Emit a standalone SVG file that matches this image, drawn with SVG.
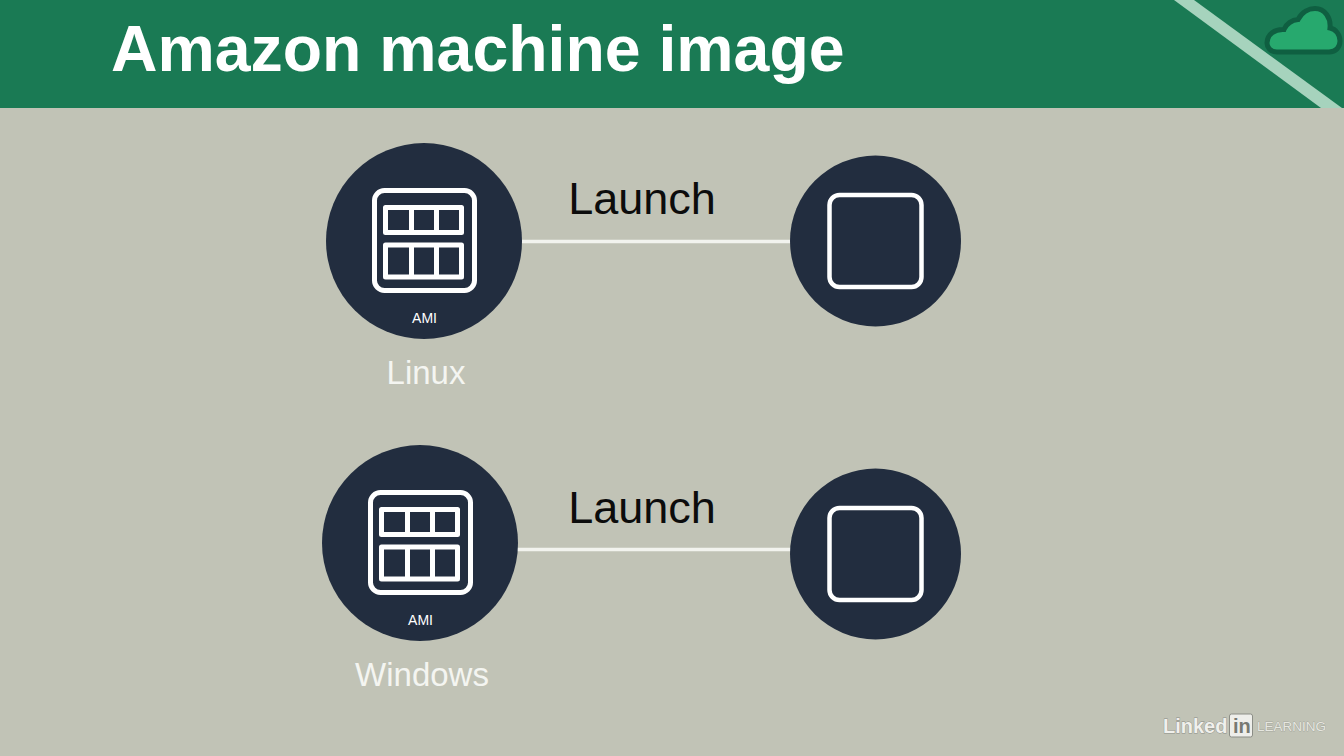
<svg xmlns="http://www.w3.org/2000/svg" width="1344" height="756" viewBox="0 0 1344 756">
<style>
.disc{fill:#222d3f}
.ln{fill:none;stroke:#fff;stroke-linejoin:round}
.conn{stroke:#f2f3ee;stroke-width:3.5;fill:none}
text{font-family:"Liberation Sans",Arial,sans-serif}
.launch{font-size:45px;fill:#0c0c0c;text-anchor:middle}
.os{font-size:33px;fill:#f4f5f1;text-anchor:middle}
.ami{font-size:14px;fill:#fff;text-anchor:middle}
</style>
<defs>
<g id="amiIcon">
<rect class="ln" x="-49.500" y="-50.500" width="100" height="100" rx="10" stroke-width="5"/>
<rect class="ln" x="-38.500" y="-33.500" width="76" height="25" stroke-width="5"/>
<path class="ln" d="M-12.500-33.500V-8.500M12.500-33.500V-8.500" stroke-width="5"/>
<rect class="ln" x="-38.500" y="4" width="76" height="32" stroke-width="5"/>
<path class="ln" d="M-12.500 4V36M12.500 4V36" stroke-width="5"/>
</g>
</defs>
<rect width="1344" height="756" fill="#c1c3b6"/>
<g id="header">
<rect width="1344" height="108" fill="#1a7a54"/>
<polygon points="1174,0 1194,0 1342,108 1321,108" fill="#a6d3bd"/>
<path id="cloud" d="M1277 52C1270 52 1267 47 1267 43C1267 34 1275 29 1284 29.500C1286 24 1292 20 1298 19.500C1302 12 1309 8.500 1315 8.500C1325 8.500 1331 18 1330 28C1336 29 1340 35 1340 41C1340 47 1336 52 1329 52Z" fill="#27a96e" stroke="#0f5f41" stroke-width="5"/>
<text x="111" y="71" font-size="64.400" font-weight="700" fill="#fff">Amazon machine image</text>
</g>
<g id="connectors">
<line class="conn" x1="521" y1="241.500" x2="792" y2="241.500"/>
<line class="conn" x1="517" y1="549.500" x2="792" y2="549.500"/>
</g>
<g id="ami-linux">
<circle class="disc" cx="424" cy="241" r="98"/>
<use href="#amiIcon" x="424" y="241"/>
<text class="ami" x="424.500" y="323">AMI</text>
<text class="os" x="426" y="384">Linux</text>
</g>
<g id="ami-windows">
<circle class="disc" cx="420" cy="543" r="98"/>
<use href="#amiIcon" x="420" y="543"/>
<text class="ami" x="420.500" y="625">AMI</text>
<text class="os" x="422" y="686">Windows</text>
</g>
<g id="instance-top">
<circle class="disc" cx="875.500" cy="241" r="85.500"/>
<rect class="ln" x="829.500" y="195" width="92" height="92" rx="10" stroke-width="4.500"/>
</g>
<g id="instance-bottom">
<circle class="disc" cx="875.500" cy="554" r="85.500"/>
<rect class="ln" x="829.500" y="508" width="92" height="92" rx="10" stroke-width="4.500"/>
</g>
<text class="launch" x="642" y="214">Launch</text>
<text class="launch" x="642" y="523">Launch</text>
<g id="watermark">
<text x="1163" y="733" font-size="20" font-weight="700" fill="#f0f0ec" stroke="#8b8d86" stroke-width="0.800" paint-order="stroke">Linked</text>
<rect x="1229.500" y="714" width="23" height="23" rx="2" fill="#eeeeea" stroke="#8b8d86"/>
<text x="1233" y="733" font-size="20" font-weight="700" fill="#777972">in</text>
<text x="1257" y="731" font-size="13.500" fill="#e6e7e0" stroke="#8b8d86" stroke-width="0.500" paint-order="stroke">LEARNING</text>
</g>
</svg>
